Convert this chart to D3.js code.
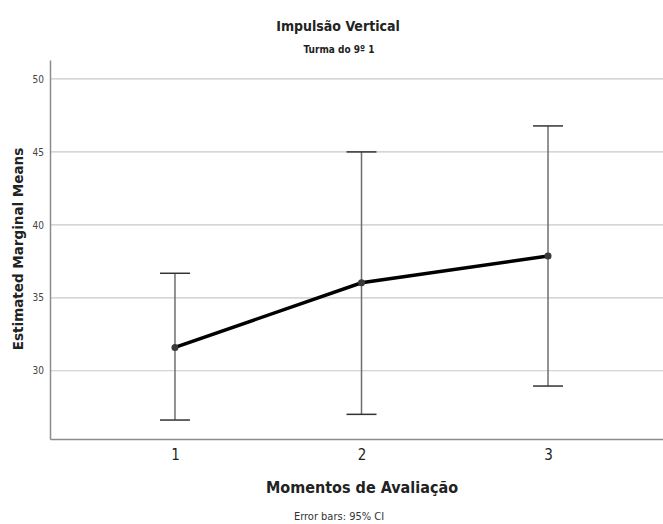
<!DOCTYPE html>
<html>
<head>
<meta charset="utf-8">
<script src="https://cdn.jsdelivr.net/npm/d3@7"></script>
<style>
  body { margin: 0; background: #fff; }
  .cond { font-family: "DejaVu Sans Condensed", "Liberation Sans Narrow", "DejaVu Sans", sans-serif; font-stretch: condensed; }
</style>
</head>
<body>
<svg id="chart" width="663" height="524"></svg>
<script>
// data
var moments = ["1", "2", "3"];
var means = [31.6, 36.03, 37.86];
var ciLow = [26.62, 27.01, 28.95];
var ciHigh = [36.68, 45.0, 46.78];
var yTicks = [30, 35, 40, 45, 50];

var svg = d3.select("#chart");
// plot box (window.top is taken, so use other names)
var plotL = 50, plotR = 673, plotT = 60, plotB = 439;

var x = d3.scalePoint().domain(moments).range([plotL, plotR]).padding(0.67);
var y = d3.scaleLinear().domain([25.32, 51.3]).range([plotB, plotT]);

var rows = moments.map(function(m, i) {
    return { m: m, mean: means[i], lo: ciLow[i], hi: ciHigh[i] };
});

// gridlines
svg.append("g").selectAll("line")
    .data(yTicks).enter().append("line")
    .attr("x1", plotL).attr("x2", plotR)
    .attr("y1", function(d) { return y(d); })
    .attr("y2", function(d) { return y(d); })
    .style("stroke", "#c8c8c8").style("stroke-width", 1.2);

// y axis
var yAxis = svg.append("g").attr("transform", "translate(" + plotL + ",0)")
    .call(d3.axisLeft(y).tickValues(yTicks).tickSize(0).tickPadding(6));
yAxis.select(".domain").style("stroke", "#8c8c8c").style("stroke-width", 1.5);
yAxis.selectAll("text").attr("class", "cond").style("font-size", "10px").style("fill", "#444");

// x axis
var xAxis = svg.append("g").attr("transform", "translate(0," + plotB + ")")
    .call(d3.axisBottom(x).tickSize(0).tickPadding(10));
xAxis.select(".domain").style("stroke", "#8c8c8c").style("stroke-width", 1.5);
xAxis.selectAll("text").attr("class", "cond").style("font-size", "15px").style("fill", "#222");

// error bars
var eb = svg.append("g").selectAll("g").data(rows).enter().append("g");
eb.append("line")
    .attr("x1", function(d) { return x(d.m); }).attr("x2", function(d) { return x(d.m); })
    .attr("y1", function(d) { return y(d.lo); }).attr("y2", function(d) { return y(d.hi); })
    .style("stroke", "#6e6e6e").style("stroke-width", 1.5);
eb.selectAll(".cap").data(function(d) { return [{m: d.m, v: d.lo}, {m: d.m, v: d.hi}]; })
    .enter().append("line").attr("class", "cap")
    .attr("x1", function(d) { return x(d.m) - 15; }).attr("x2", function(d) { return x(d.m) + 15; })
    .attr("y1", function(d) { return y(d.v); }).attr("y2", function(d) { return y(d.v); })
    .style("stroke", "#333").style("stroke-width", 1.5);

// mean line
var line = d3.line().x(function(d) { return x(d.m); }).y(function(d) { return y(d.mean); });
svg.append("path").datum(rows).attr("d", line)
    .style("fill", "none").style("stroke", "#000").style("stroke-width", 3.5);

svg.append("g").selectAll("circle").data(rows).enter().append("circle")
    .attr("cx", function(d) { return x(d.m); }).attr("cy", function(d) { return y(d.mean); })
    .attr("r", 3.5).style("fill", "#3a3a3a");

// titles
svg.append("text").attr("class", "cond").attr("x", 338).attr("y", 31)
    .attr("text-anchor", "middle").style("font-size", "14px").style("font-weight", "bold")
    .style("fill", "#222").text("Impulsão Vertical");
svg.append("text").attr("class", "cond").attr("x", 339).attr("y", 53)
    .attr("text-anchor", "middle").style("font-size", "10px").style("font-weight", "bold")
    .style("fill", "#222").text("Turma do 9º 1");
svg.append("text").attr("transform", "translate(23," + 249 + ") rotate(-90)")
    .attr("text-anchor", "middle")
    .style("font-family", "'DejaVu Sans', sans-serif").style("font-size", "13.5px").style("font-weight", "bold")
    .style("fill", "#222").text("Estimated Marginal Means");
svg.append("text").attr("class", "cond").attr("x", 362).attr("y", 493)
    .attr("text-anchor", "middle").style("font-size", "16px").style("font-weight", "bold")
    .style("fill", "#222").text("Momentos de Avaliação");
svg.append("text").attr("class", "cond").attr("x", 339).attr("y", 520)
    .attr("text-anchor", "middle").style("font-size", "11px")
    .style("fill", "#333").text("Error bars: 95% CI");
</script>
</body>
</html>
